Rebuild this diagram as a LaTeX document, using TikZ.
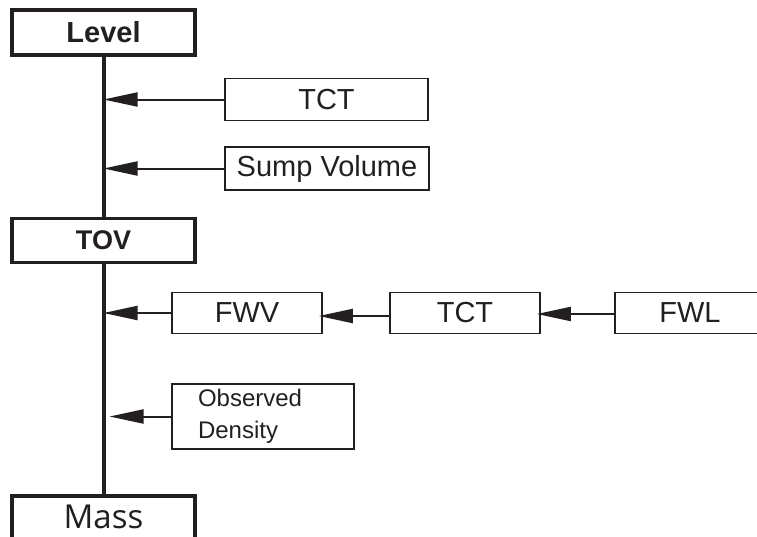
\documentclass[tikz,border=0pt]{standalone}
\usepackage{fontspec}
\setmainfont{Liberation Sans}
\newfontfamily\massfont{Open Sans}
\usetikzlibrary{arrows.meta}
\definecolor{ink}{HTML}{231F20}
\tikzset{
  thinbox/.style={draw=ink, line width=1.6pt, rectangle, inner sep=0pt, text=ink, font=\fontsize{29}{31}\selectfont},
  thickbox/.style={draw=ink, line width=3.6pt, rectangle, inner sep=0pt, text=ink, minimum width=183pt},
  feed/.style={draw=ink, line width=2pt, -{Triangle[length=34pt,width=14pt]}},
  spine/.style={draw=ink, line width=4pt}
}
\begin{document}
\begin{tikzpicture}[x=1pt,y=-1pt]
\useasboundingbox (0,0) rectangle (757,536);
% main column
\node[thickbox, minimum height=45pt, font=\fontsize{29}{31}\selectfont\bfseries] (level) at (103.5,32.5) {Level};
\node[thickbox, minimum height=44pt, font=\fontsize{27}{29}\selectfont\bfseries] (tov) at (103.5,240.5) {TOV};
\node[thickbox, minimum height=50pt, anchor=north, font=\fontsize{33}{35}\massfont, text height=24pt, text depth=8pt] (mass) at (103.5,494) {Mass};
\draw[spine] (level.south) -- (tov.north);
\draw[spine] (tov.south) -- (mass.north);
% inputs to level->tov
\node[thinbox, minimum width=203pt, minimum height=42pt] (tct1) at (326.5,99.5) {TCT};
\node[thinbox, minimum width=204pt, minimum height=43pt] (sump) at (327,168.5) {Sump Volume};
\draw[feed] (tct1.west) -- (tct1.west -| level.south);
\draw[feed] (sump.west) -- (sump.west -| level.south);
% inputs to tov->mass
\node[thinbox, minimum width=150pt, minimum height=41pt] (fwv) at (247,313) {FWV};
\node[thinbox, minimum width=150pt, minimum height=41pt] (tct2) at (465,313) {TCT};
\node[thinbox, minimum width=150pt, minimum height=41pt] (fwl) at (690,313) {FWL};
\draw[feed] (fwv.west) -- (fwv.west -| tov.south);
\draw[feed] ([yshift=-3pt]tct2.west) -- ([yshift=-3pt,xshift=-4pt]fwv.east);
\draw[feed] ([yshift=-1pt]fwl.west) -- ([yshift=-1pt,xshift=-4pt]tct2.east);
\node[thinbox, minimum width=182pt, minimum height=65pt, align=left, text width=154pt, font=\fontsize{24}{32}\selectfont] (obs) at (263,416.5) {\hspace*{12pt}Observed\\\hspace*{12pt}Density};
\draw[feed] (obs.west) -- ([xshift=6pt]obs.west -| tov.south);
\end{tikzpicture}
\end{document}
